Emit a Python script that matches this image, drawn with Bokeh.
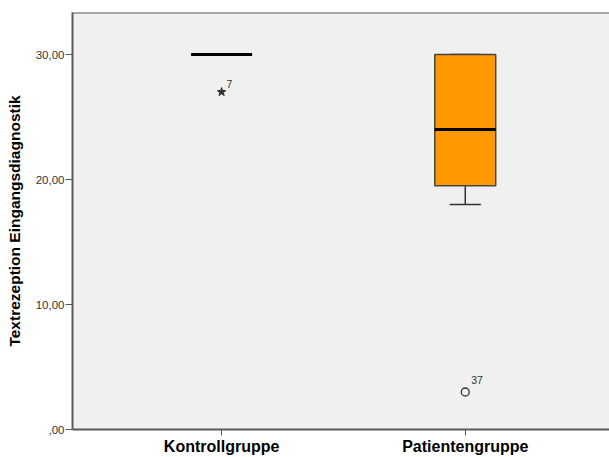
from bokeh.plotting import figure
from bokeh.models import Range1d, FixedTicker, Label, ColumnDataSource, Span
from bokeh.embed import file_html
from bokeh.resources import INLINE

groups = ["Kontrollgruppe", "Patientengruppe"]
group_pos = [0, 1]
q1 = [30, 19.5]
median = [30, 24]
q3 = [30, 30]
whisker_low = [30, 18]
whisker_high = [30, 30]
box_colors = ["#FF9900", "#FF9900"]

extreme_group = [0]
extreme_value = [27]
extreme_label = ["7"]
outlier_group = [1]
outlier_value = [3]
outlier_label = ["37"]

y_ticks = [0, 10, 20, 30]
y_tick_labels = [",00", "10,00", "20,00", "30,00"]
Y_MAX = 33.36

FONT = "Liberation Sans"
BOX_W = 0.25
CAP_W = 0.128

p = figure(width=609, height=457, output_backend="svg", toolbar_location=None,
           x_range=Range1d(-0.612, 1.592), y_range=Range1d(0, Y_MAX),
           min_border_left=72, min_border_right=0, min_border_top=12, min_border_bottom=28)
p.background_fill_color = "#F0F0F0"
p.border_fill_color = "white"
p.outline_line_color = None
p.grid.visible = False
p.add_layout(Span(location=Y_MAX, dimension="width", line_color="#5a5a5a", line_width=2))

src = ColumnDataSource(dict(x=group_pos, q1=q1, q3=q3, med=median, lo=whisker_low,
                            hi=whisker_high, color=box_colors,
                            left=[g - BOX_W / 2 for g in group_pos],
                            right=[g + BOX_W / 2 for g in group_pos],
                            cl=[g - CAP_W / 2 for g in group_pos],
                            cr=[g + CAP_W / 2 for g in group_pos]))
p.segment(x0="x", y0="lo", x1="x", y1="q1", source=src, line_color="#333333", line_width=1.5)
p.segment(x0="x", y0="q3", x1="x", y1="hi", source=src, line_color="#333333", line_width=1.5)
p.segment(x0="cl", y0="lo", x1="cr", y1="lo", source=src, line_color="#333333", line_width=1.5)
p.segment(x0="cl", y0="hi", x1="cr", y1="hi", source=src, line_color="#333333", line_width=1.5)
p.quad(left="left", right="right", bottom="q1", top="q3", source=src,
       fill_color="color", line_color="#444444", line_width=1.5)
p.segment(x0="left", y0="med", x1="right", y1="med", source=src, line_color="black", line_width=3)

p.scatter(extreme_group, extreme_value, marker="star", size=9, fill_color="#333333",
          line_color="#333333")
p.scatter(outlier_group, outlier_value, marker="circle", size=8, fill_color=None,
          line_color="#333333", line_width=1.3)
for g, v, t in zip(extreme_group, extreme_value, extreme_label):
    p.add_layout(Label(x=g, y=v, text=t, x_offset=5, y_offset=4, text_font=FONT,
                       text_font_size="10.5px", text_color="#333333"))
for g, v, t in zip(outlier_group, outlier_value, outlier_label):
    p.add_layout(Label(x=g, y=v, text=t, x_offset=6, y_offset=8, text_font=FONT,
                       text_font_size="10.5px", text_color="#333333"))

p.yaxis.ticker = FixedTicker(ticks=y_ticks)
p.yaxis.major_label_overrides = {t: l for t, l in zip(y_ticks, y_tick_labels)}
p.yaxis.major_label_text_font = FONT
p.yaxis.major_label_text_font_size = "11.5px"
p.yaxis.major_label_text_color = "#333333"
p.yaxis.minor_tick_line_color = None
p.yaxis.major_tick_in = 0
p.yaxis.major_tick_out = 7
p.yaxis.major_tick_line_color = "#555555"
p.yaxis.axis_line_color = "#5a5a5a"
p.yaxis.axis_line_width = 2
p.yaxis.major_label_standoff = 1
p.yaxis.axis_label = "Textrezeption Eingangsdiagnostik"
p.yaxis.axis_label_text_font = FONT
p.yaxis.axis_label_text_font_style = "bold"
p.yaxis.axis_label_text_font_size = "15.5px"
p.yaxis.axis_label_text_color = "black"
p.yaxis.axis_label_standoff = 10

p.xaxis.ticker = FixedTicker(ticks=group_pos)
p.xaxis.major_label_overrides = {g: n for g, n in zip(group_pos, groups)}
p.xaxis.major_label_text_font = FONT
p.xaxis.major_label_text_font_size = "16px"
p.xaxis.major_label_text_font_style = "bold"
p.xaxis.major_label_text_color = "black"
p.xaxis.minor_tick_line_color = None
p.xaxis.major_tick_in = 0
p.xaxis.major_tick_out = 6
p.xaxis.major_tick_line_color = "#555555"
p.xaxis.axis_line_color = "#5a5a5a"
p.xaxis.axis_line_width = 2
p.xaxis.major_label_standoff = 2

open("out.html", "w").write(file_html(p, INLINE))
